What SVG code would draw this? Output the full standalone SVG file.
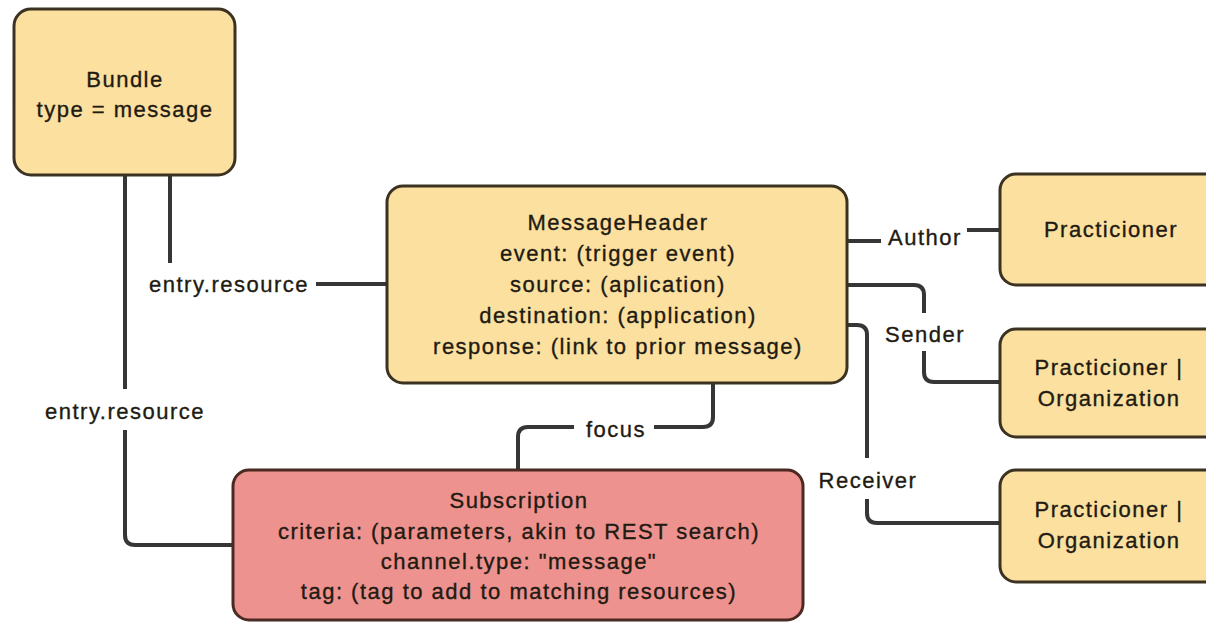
<svg xmlns="http://www.w3.org/2000/svg" width="1206" height="622" viewBox="0 0 1206 622">
  <style>
    .box { stroke: #3b3222; stroke-width: 3; }
    .yellow { fill: #fbe0a0; }
    .red { fill: #ee928f; stroke: #4a2a22; }
    .t { font-family: "Liberation Sans", Arial, sans-serif; font-size: 22px; letter-spacing: 1.5px; fill: #1f1b12; stroke: #1f1b12; stroke-width: 0.35; text-anchor: middle; }
    .wire { fill: none; stroke: #363636; stroke-width: 4; }
    .lblbg { fill: #ffffff; }
  </style>
  <rect width="1206" height="622" fill="#ffffff"/>

  <!-- connectors, each label sits on a white patch that breaks its line -->
  <g id="connectors">
    <path class="wire" d="M170,175 V284 H387"/>
    <path class="wire" d="M125,175 V535 Q125,545 135,545 H233"/>
    <path class="wire" d="M847,241 H924 V230 H1000"/>
    <path class="wire" d="M847,285 H914 Q924,285 924,295 V372 Q924,382 934,382 H1000"/>
    <path class="wire" d="M847,325 H857 Q867,325 867,335 V513 Q867,523 877,523 H1000"/>
    <path class="wire" d="M713,383 V417 Q713,427 703,427 H528 Q518,427 518,437 V470"/>

    <rect class="lblbg" x="142" y="263" width="174" height="38"/>
    <text class="t" x="229" y="292">entry.resource</text>
    <rect class="lblbg" x="38" y="389" width="172" height="41"/>
    <text class="t" x="125" y="419">entry.resource</text>
    <rect class="lblbg" x="881" y="222" width="86" height="30"/>
    <text class="t" x="925" y="245">Author</text>
    <rect class="lblbg" x="880" y="313" width="88" height="38"/>
    <text class="t" x="925" y="342">Sender</text>
    <rect class="lblbg" x="815" y="458" width="106" height="41"/>
    <text class="t" x="868" y="488">Receiver</text>
    <rect class="lblbg" x="574" y="414" width="80" height="30"/>
    <text class="t" x="616" y="437">focus</text>
  </g>

  <g id="bundle">
    <rect class="box yellow" x="14" y="9" width="221" height="166" rx="17"/>
    <text class="t" x="125" y="87">Bundle</text>
    <text class="t" x="125" y="117">type = message</text>
  </g>

  <g id="message-header">
    <rect class="box yellow" x="387" y="186" width="460" height="197" rx="16"/>
    <text class="t" x="618" y="230">MessageHeader</text>
    <text class="t" x="618" y="261">event: (trigger event)</text>
    <text class="t" x="618" y="292">source: (aplication)</text>
    <text class="t" x="618" y="323">destination: (application)</text>
    <text class="t" x="618" y="354">response: (link to prior message)</text>
  </g>

  <g id="subscription">
    <rect class="box red" x="233" y="470" width="570" height="150" rx="16"/>
    <text class="t" x="519" y="508">Subscription</text>
    <text class="t" x="519" y="539">criteria: (parameters, akin to REST search)</text>
    <text class="t" x="519" y="569">channel.type: "message"</text>
    <text class="t" x="519" y="599">tag: (tag to add to matching resources)</text>
  </g>

  <g id="author">
    <rect class="box yellow" x="1000" y="174" width="222" height="111" rx="16"/>
    <text class="t" x="1111" y="237">Practicioner</text>
  </g>

  <g id="sender">
    <rect class="box yellow" x="1000" y="329" width="222" height="108" rx="16"/>
    <text class="t" x="1109" y="375">Practicioner |</text>
    <text class="t" x="1109" y="406">Organization</text>
  </g>

  <g id="receiver">
    <rect class="box yellow" x="1000" y="470" width="222" height="112" rx="16"/>
    <text class="t" x="1109" y="517">Practicioner |</text>
    <text class="t" x="1109" y="548">Organization</text>
  </g>
</svg>
